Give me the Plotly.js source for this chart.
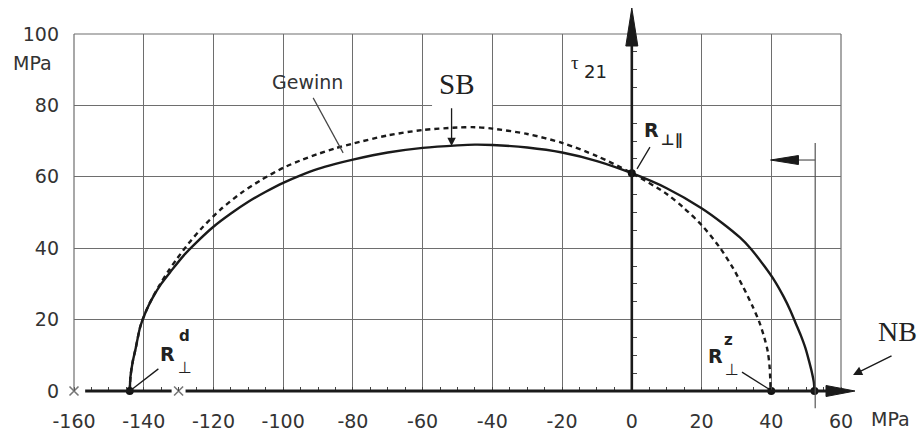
<!DOCTYPE html>
<html>
<head>
<meta charset="utf-8">
<script src="https://cdn.plot.ly/plotly-3.0.1.min.js"></script>
<style>html,body{margin:0;padding:0;background:#fff;}#chart{width:917px;height:432px;}</style>
</head>
<body>
<div id="chart"></div>
<script>
// Failure envelope with gain (solid) and original (dashed), sigma_2 vs tau_21 in MPa
const solidX = [-144,-143.8,-143.2,-142.3,-141,-139.5,-137.5,-135,-132,-128.5,-125,-120,-115,-110,-105,-100,-95,-90,-85,-80,-70,-60,-50,-45,-40,-30,-20,-10,0,10,20,26,31,34,38,41,43.5,45.5,47,48.5,49.8,50.8,51.7,52.2,52.4];
const solidY = [0,4,8,12,18,22,26,30,33.8,38,41.5,46,49.7,53,55.8,58.3,60.4,62.2,63.6,64.8,66.8,68.1,68.8,69,68.9,68.2,66.8,64.4,61,56.8,51.2,47,43,40,35,30.8,26.5,22.5,19,15.5,12,8.5,5,2.5,0];
const dashX = [-144,-143.8,-143.2,-142.3,-141,-139.5,-137.7,-135.5,-133,-130.5,-127,-123,-118,-112,-106,-100,-95,-90,-85,-80,-70,-60,-50,-45,-40,-30,-20,-10,0,10,15,20,25,29,32,34.5,36.5,38,39,39.5,39.7,39.8];
const dashY = [0,4,8,12,18,22,25.8,29.6,33.5,37,41.5,46,50.8,55.5,59.3,62.5,64.6,66.4,68,69.3,71.6,73.1,73.8,73.9,73.5,72,69.5,65.8,61,55.2,51.2,46.5,40.5,34.5,29,24,19.5,15,11,7,3.5,0];
const pointX = [-144,0,40,52.4];
const pointY = [0,61,0,0];
const crossX = [-160,-130];
const crossY = [0,0];
const xTicks = [-160,-140,-120,-100,-80,-60,-40,-20,0,20,40,60];
const yTicks = [0,20,40,60,80,100];

const xRange = [-160,60], yRange = [0,100];
const plotW = 767, plotH = 357;
function pxX(x){return (x-xRange[0])/(xRange[1]-xRange[0]);}
function pxY(y){return (y-yRange[0])/(yRange[1]-yRange[0]);}
function offX(p){return p/plotW;}
function offY(p){return p/plotH;}

const tickFont = {family:'DejaVu Sans, Arial, sans-serif', size:19, color:'#333'};
const ink = '#1a1a1a';

const traces = [
  {x:dashX, y:dashY, mode:'lines', line:{color:ink, width:2.4, dash:'5px,4px', shape:'spline', smoothing:0.8}, hoverinfo:'skip', showlegend:false},
  {x:solidX, y:solidY, mode:'lines', line:{color:ink, width:2.4, shape:'spline', smoothing:0.8}, hoverinfo:'skip', showlegend:false},
  {x:crossX, y:crossY, mode:'markers', marker:{symbol:'x-thin-open', size:9, color:'#777', line:{width:1.6, color:'#777'}}, cliponaxis:false, hoverinfo:'skip', showlegend:false},
  {x:pointX, y:pointY, yaxis:'y2', mode:'markers', marker:{symbol:'circle', size:8, color:'#111'}, cliponaxis:false, hoverinfo:'skip', showlegend:false}
];

const x0 = pxX(0);
const shapes = [
  // white gap in the 80 grid line behind "SB"
  {type:'rect', xref:'x', yref:'y', x0:-57.3, x1:-40.1, y0:79.2, y1:80.8, fillcolor:'#fff', line:{width:0}, layer:'between'},
  // frame (left, top, right)
  {type:'line', xref:'paper', yref:'paper', x0:0, x1:0, y0:0, y1:1, line:{color:'#6e6e6e', width:1.2}},
  {type:'line', xref:'paper', yref:'paper', x0:0, x1:1, y0:1, y1:1, line:{color:'#6e6e6e', width:1.2}},
  {type:'line', xref:'paper', yref:'paper', x0:1, x1:1, y0:0, y1:1, line:{color:'#6e6e6e', width:1.2}},
  // sigma axis (thick) with gaps at the crosses
  {type:'line', xref:'paper', yref:'paper', x0:pxX(-156.8), x1:pxX(-132), y0:0, y1:0, line:{color:ink, width:3}},
  {type:'line', xref:'paper', yref:'paper', x0:pxX(-128), x1:pxX(57), y0:0, y1:0, line:{color:ink, width:3}},
  {type:'path', xref:'paper', yref:'paper', path:`M ${pxX(55.7)},${offY(5.5)} L ${pxX(64)},0 L ${pxX(55.7)},${-offY(5.5)} Z`, fillcolor:ink, line:{color:ink, width:1}},
  // tau axis (thick) with arrow
  {type:'line', xref:'paper', yref:'paper', x0:x0, x1:x0, y0:0, y1:1.0, line:{color:ink, width:2.6}},
  {type:'path', xref:'paper', yref:'paper', path:`M ${x0-offX(6)},${1+offY(-12)} L ${x0},${1+offY(26)} L ${x0+offX(6)},${1+offY(-12)} Z`, fillcolor:ink, line:{color:ink, width:1}},
  // leader lines
  {type:'line', xref:'x', yref:'y', x0:-144, y0:0, x1:-135.8, y1:6.2, line:{color:ink, width:1.3}},
  {type:'line', xref:'x', yref:'y', x0:31.6, y0:5.3, x1:39.4, y1:0.5, line:{color:ink, width:1.3}},
  {type:'line', xref:'x', yref:'y', x0:5.2, y0:68.3, x1:1.5, y1:62.2, line:{color:ink, width:1.3}},
  {type:'line', xref:'x', yref:'y', x0:-91.4, y0:82.1, x1:-82.8, y1:66.7, line:{color:'#444', width:1.2}},
  // vertical marker line at x ~ 52.6 extending below axis
  {type:'line', xref:'paper', yref:'paper', x0:pxX(52.6), x1:pxX(52.6), y0:pxY(-4.8), y1:pxY(69.5), line:{color:'#555', width:1.2}},
  // horizontal arrow pointing left
  {type:'line', xref:'paper', yref:'paper', x0:pxX(52.6), x1:pxX(47.5), y0:pxY(64.7), y1:pxY(64.7), line:{color:'#555', width:1.2}},
  {type:'path', xref:'paper', yref:'paper', path:`M ${pxX(47.8)},${pxY(64.7)+offY(4.5)} L ${pxX(39.8)},${pxY(64.7)} L ${pxX(47.8)},${pxY(64.7)-offY(4.5)} Z`, fillcolor:ink, line:{color:ink, width:1}}
];

const serif = 'Liberation Serif, Times New Roman, serif';
const sans = 'DejaVu Sans, Arial, sans-serif';
const annotations = [
  {xref:'paper', yref:'paper', x:-0.0541, y:0.9188, xanchor:'center', yanchor:'middle', text:'MPa', showarrow:false, font:tickFont},
  {xref:'paper', yref:'paper', x:1.0639, y:-0.0784, xanchor:'center', yanchor:'middle', text:'MPa', showarrow:false, font:tickFont},
  {xref:'x', yref:'y', x:-92.9, y:86.6, text:'Gewinn', showarrow:false, font:{family:sans, size:19, color:'#333'}},
  {xref:'x', yref:'y', x:-50.2, y:86, text:'SB', showarrow:false, font:{family:serif, size:29, color:'#222'}},
  {xref:'x', yref:'y', x:-51.7, y:68.6, ax:-51.7, ay:79.6, axref:'x', ayref:'y', text:'', showarrow:true, arrowhead:2, arrowsize:1.3, arrowwidth:1.3, arrowcolor:ink},
  {xref:'x', yref:'y', x:-16.3, y:91.9, text:'τ', showarrow:false, font:{family:serif, size:19, color:'#222'}},
  {xref:'x', yref:'y', x:-10.3, y:89.5, text:'21', showarrow:false, font:{family:sans, size:18, color:'#222'}},
  // R_perp,par
  {xref:'x', yref:'y', x:5.6, y:73.2, text:'<b>R</b>', showarrow:false, font:{family:sans, size:19, color:'#222'}},
  {xref:'x', yref:'y', x:11.4, y:70.3, text:'<b>⊥∥</b>', showarrow:false, font:{family:sans, size:15, color:'#222'}},
  // R_perp^d
  {xref:'x', yref:'y', x:-133.2, y:10.5, text:'<b>R</b>', showarrow:false, font:{family:sans, size:19, color:'#222'}},
  {xref:'x', yref:'y', x:-128.4, y:15.5, text:'<b>d</b>', showarrow:false, font:{family:sans, size:15, color:'#222'}},
  {xref:'x', yref:'y', x:-128.2, y:6.5, text:'⊥', showarrow:false, font:{family:sans, size:16, color:'#222'}},
  // R_perp^z
  {xref:'x', yref:'y', x:24, y:9.9, text:'<b>R</b>', showarrow:false, font:{family:sans, size:19, color:'#222'}},
  {xref:'x', yref:'y', x:27.7, y:14.2, text:'<b>z</b>', showarrow:false, font:{family:sans, size:15, color:'#222'}},
  {xref:'x', yref:'y', x:28.6, y:5.9, text:'⊥', showarrow:false, font:{family:sans, size:16, color:'#222'}},
  // NB
  {xref:'paper', yref:'paper', x:(876-74)/plotW, y:0.168, xanchor:'left', yanchor:'middle', text:'NB', showarrow:false, font:{family:serif, size:28, color:'#222'}},
  {xref:'paper', yref:'paper', x:1.0157, y:0.0448, ax:40, ay:-20, text:'', showarrow:true, arrowhead:2, arrowsize:1.3, arrowwidth:1.4, arrowcolor:ink}
];

const layout = {
  width:917, height:432,
  margin:{l:74, r:76, t:34, b:41, pad:0},
  paper_bgcolor:'#fff', plot_bgcolor:'#fff',
  showlegend:false,
  xaxis:{range:xRange, tickvals:xTicks, ticktext:xTicks.map(String), showgrid:true, gridcolor:'#6e6e6e', gridwidth:1,
         zeroline:false, showline:false, ticks:'', tickfont:tickFont, ticklabelstandoff:17,
         minor:{dtick:5, tick0:0, ticks:'inside', ticklen:4, tickwidth:1, tickcolor:'#444', showgrid:false}, fixedrange:true},
  yaxis:{range:yRange, tickvals:yTicks, ticktext:yTicks.map(String), showgrid:true, gridcolor:'#6e6e6e', gridwidth:1,
         zeroline:false, showline:false, ticks:'', tickfont:tickFont, ticklabelstandoff:14, fixedrange:true},
  yaxis2:{range:yRange, overlaying:'y', anchor:'free', position:x0, side:'left', showgrid:false, zeroline:false, showline:false,
          showticklabels:false, ticks:'', minor:{dtick:5, tick0:0, ticks:'inside', ticklen:4, tickwidth:1, tickcolor:'#444', showgrid:false}, fixedrange:true},
  shapes:shapes,
  annotations:annotations
};

Plotly.newPlot('chart', traces, layout, {staticPlot:true, displayModeBar:false});
</script>
</body>
</html>
